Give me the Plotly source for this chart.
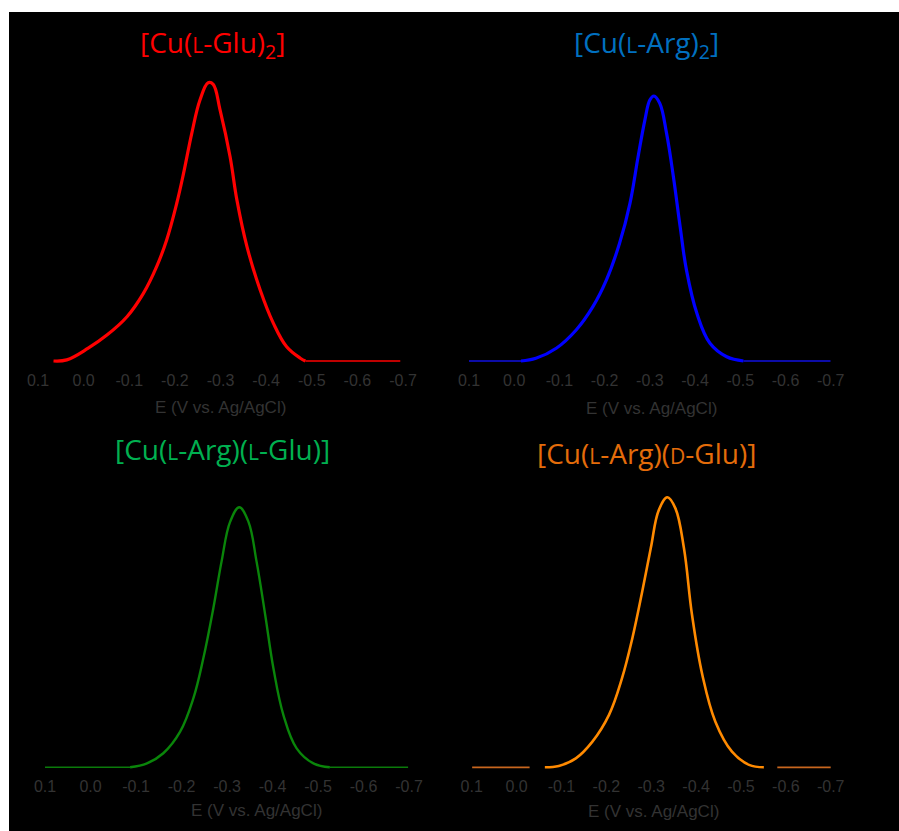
import plotly.graph_objects as go

# ---- Differential pulse voltammograms (normalised current vs. potential) ----
tick_vals = [0.1, 0.0, -0.1, -0.2, -0.3, -0.4, -0.5, -0.6, -0.7]
tick_text = ["0.1", "0.0", "-0.1", "-0.2", "-0.3", "-0.4", "-0.5", "-0.6", "-0.7"]

# [Cu(L-Glu)2]
glu2_E = [0.066, 0.037, -0.010, -0.051, -0.095, -0.131, -0.160, -0.182, -0.204, -0.219,
          -0.237, -0.255, -0.273, -0.284, -0.299, -0.321, -0.336, -0.358, -0.387,
          -0.416, -0.445, -0.475, -0.486]
glu2_I = [0.0, 0.004, 0.046, 0.093, 0.159, 0.243, 0.339, 0.435, 0.566, 0.674,
          0.818, 0.938, 1.0, 0.994, 0.902, 0.734, 0.578, 0.411, 0.255,
          0.135, 0.051, 0.010, 0.0]
glu2_base_E = [-0.486, -0.694]
glu2_base_I = [0.0, 0.0]

# [Cu(L-Arg)2]
arg2_E = [-0.015, -0.048, -0.093, -0.137, -0.174, -0.204, -0.233, -0.256, -0.274, -0.289,
          -0.300, -0.309, -0.322, -0.337, -0.352, -0.367, -0.381, -0.404, -0.433,
          -0.470, -0.507]
arg2_I = [0.0, 0.010, 0.048, 0.117, 0.205, 0.306, 0.444, 0.595, 0.771, 0.909,
          0.985, 1.0, 0.972, 0.859, 0.696, 0.507, 0.343, 0.180, 0.067,
          0.016, 0.0]
arg2_base_E = [0.1, -0.015, None, -0.507, -0.700]
arg2_base_I = [0.0, 0.0, None, 0.0, 0.0]

# [Cu(L-Arg)(L-Glu)]
llmix_E = [-0.087, -0.124, -0.160, -0.197, -0.226, -0.248, -0.270, -0.288, -0.307,
           -0.327, -0.347, -0.365, -0.384, -0.402, -0.424, -0.453, -0.490, -0.526]
llmix_I = [0.0, 0.015, 0.054, 0.137, 0.265, 0.419, 0.612, 0.791, 0.945,
           1.0, 0.945, 0.791, 0.586, 0.381, 0.201, 0.073, 0.015, 0.0]
llmix_base_E = [0.1, -0.087, None, -0.526, -0.698]
llmix_base_I = [0.0, 0.0, None, 0.0, 0.0]

# [Cu(L-Arg)(D-Glu)]
ldmix_E = [-0.063, -0.094, -0.132, -0.169, -0.206, -0.235, -0.258, -0.280, -0.299,
           -0.317, -0.336, -0.354, -0.373, -0.391, -0.414, -0.443, -0.480, -0.518, -0.551]
ldmix_I = [0.0, 0.005, 0.033, 0.095, 0.194, 0.330, 0.478, 0.651, 0.811,
           0.953, 1.0, 0.959, 0.811, 0.564, 0.342, 0.169, 0.058, 0.009, 0.0]
ldmix_base_E = [0.099, -0.029, None, -0.581, -0.705]
ldmix_base_I = [0.0, 0.0, None, 0.0, 0.0]

SC = '<span style="font-size:21px">{}</span>'
titles = [
    "[Cu(" + SC.format("L") + "-Glu)<sub>2</sub>]",
    "[Cu(" + SC.format("L") + "-Arg)<sub>2</sub>]",
    "[Cu(" + SC.format("L") + "-Arg)(" + SC.format("L") + "-Glu)]",
    "[Cu(" + SC.format("L") + "-Arg)(" + SC.format("D") + "-Glu)]",
]
title_colors = ["#FF0000", "#0070C0", "#00B050", "#E46C0A"]

W, H = 899, 831
ML, MT = 9, 12
PW, PH = W - ML, H - MT


def px_x(p):
    return (p - ML) / PW


def px_y(p):
    return 1 - (p - MT) / PH


Y_RANGE = [-0.03, 1.08]

# panel geometry: x pixel of E=+0.1 and E=-0.7, baseline pixel, peak pixel
panels = [
    dict(x0=38, x1=403, base=361, peak=82.7),
    dict(x0=469, x1=830.7, base=361, peak=96),
    dict(x0=45, x1=409, base=767.3, peak=507.3),
    dict(x0=471.7, x1=830.7, base=767.3, peak=497.3),
]

curves = [
    (glu2_E, glu2_I, glu2_base_E, glu2_base_I, "#FF0000", "#FF0000", 3.2, 1.6),
    (arg2_E, arg2_I, arg2_base_E, arg2_base_I, "#0000FF", "#1010E0", 3.2, 1.6),
    (llmix_E, llmix_I, llmix_base_E, llmix_base_I, "#0A850A", "#0A7A0A", 2.4, 1.6),
    (ldmix_E, ldmix_I, ldmix_base_E, ldmix_base_I, "#FF8A00", "#C8661E", 2.6, 1.8),
]

fig = go.Figure()
layout_axes = {}
for i, (p, c) in enumerate(zip(panels, curves), start=1):
    xa = "x" if i == 1 else f"x{i}"
    ya = "y" if i == 1 else f"y{i}"
    E, I, bE, bI, col, bcol, lw, blw = c
    fig.add_trace(go.Scatter(x=bE, y=bI, mode="lines", xaxis=xa, yaxis=ya,
                             line=dict(color=bcol, width=blw), hoverinfo="skip"))
    fig.add_trace(go.Scatter(x=E, y=I, mode="lines", xaxis=xa, yaxis=ya,
                             line=dict(color=col, width=lw, shape="spline", smoothing=1.1)))
    unit = p["base"] - p["peak"]
    y_bot = p["base"] - Y_RANGE[0] * unit
    y_top = p["base"] - Y_RANGE[1] * unit
    key = "" if i == 1 else str(i)
    layout_axes["xaxis" + key] = dict(
        domain=[px_x(p["x0"]), px_x(p["x1"])], range=[0.1, -0.7], anchor=ya,
        tickvals=tick_vals, ticktext=tick_text, showgrid=False, zeroline=False,
        showline=False, ticks="",
        tickfont=dict(family="Liberation Sans, Arial", size=16, color="#333333"),
    )
    layout_axes["yaxis" + key] = dict(
        domain=[px_y(y_bot), px_y(y_top)], range=Y_RANGE, anchor=xa, visible=False,
    )

fig.update_layout(**layout_axes)

annotations = []
title_pos = [(212.5, 44), (646.5, 44), (222.5, 449), (646.5, 453)]
for t, col, (tx, ty) in zip(titles, title_colors, title_pos):
    annotations.append(dict(text=t, x=px_x(tx), y=px_y(ty), xref="paper", yref="paper",
                            xanchor="center", yanchor="middle", showarrow=False,
                            font=dict(family="Open Sans", size=28, color=col)))

xlabel_pos = [(220, 407), (651, 408), (256, 810), (653, 811.5)]
for tx, ty in xlabel_pos:
    annotations.append(dict(text="E (V vs. Ag/AgCl)", x=px_x(tx), y=px_y(ty),
                            xref="paper", yref="paper", xanchor="center", yanchor="middle",
                            showarrow=False,
                            font=dict(family="Liberation Sans, Arial", size=17, color="#333333")))

fig.update_layout(
    width=W, height=H, autosize=False,
    margin=dict(l=ML, t=MT, r=0, b=0, autoexpand=False),
    paper_bgcolor="white", plot_bgcolor="rgba(0,0,0,0)",
    showlegend=False,
    annotations=annotations,
    shapes=[dict(type="rect", xref="paper", yref="paper", x0=0, x1=1, y0=0, y1=1,
                 fillcolor="black", line=dict(width=0), layer="below")],
)

fig.write_html(
    "out.html",
    config={"responsive": False},
    post_script=(
        "document.body.style.margin='0';"
        "document.body.style.overflow='hidden';"
        "document.documentElement.style.overflow='hidden';"
        "var gd=document.getElementById('{plot_id}');"
        "Plotly.relayout(gd,{width:%d,height:%d});" % (W, H)
    ),
)
